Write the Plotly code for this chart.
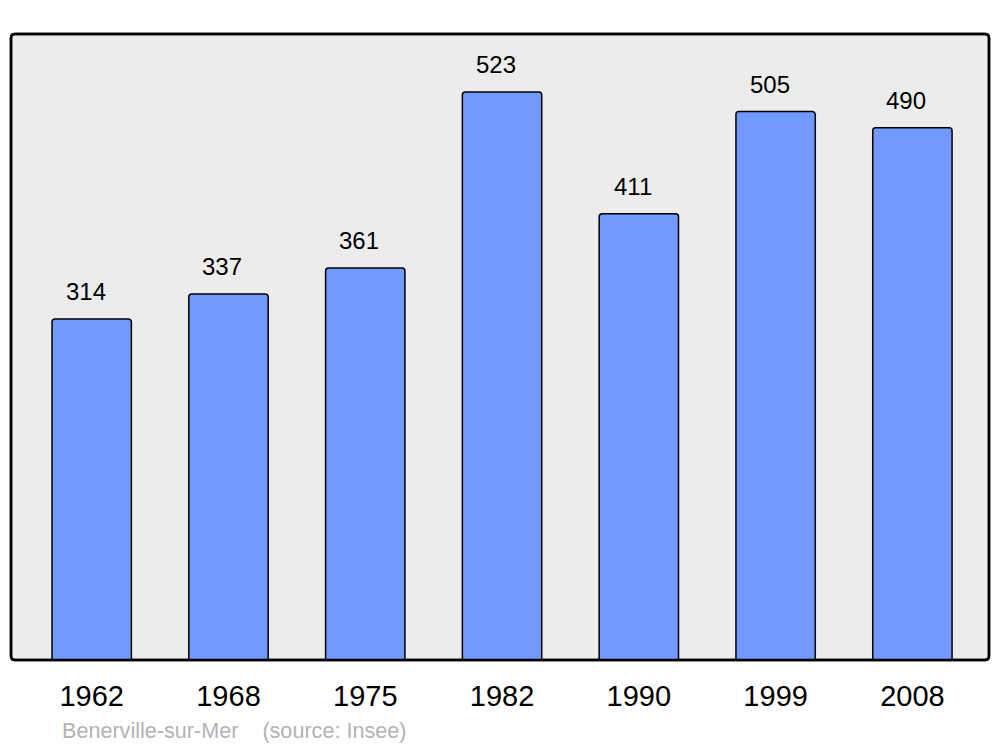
import plotly.graph_objects as go

years = ["1962", "1968", "1975", "1982", "1990", "1999", "2008"]
population = [314, 337, 361, 523, 411, 505, 490]
source_text = "Benerville-sur-Mer    (source: Insee)"

W, H = 1000, 747
L, T = 11, 34
R = W - 989
B = H - 660
pw, ph = W - L - R, H - T - B

FONT = "Liberation Sans, Arial, sans-serif"

fig = go.Figure()
fig.add_trace(go.Bar(
    x=years, y=population, width=0.58,
    marker=dict(color="#7299ff", line=dict(color="#000000", width=1.5)),
    hoverinfo="x+y",
))

annotations = []
for i, v in enumerate(population):
    annotations.append(dict(x=i, y=v, xref="x", yref="y", text=str(v), showarrow=False,
                            yanchor="bottom", yshift=12, xshift=-6,
                            font=dict(family=FONT, size=24, color="#000000")))
annotations.append(dict(x=(60 - L) / pw, y=-(730 - (T + ph)) / ph,
                        xref="paper", yref="paper", text=source_text, showarrow=False,
                        xanchor="left", yanchor="middle",
                        font=dict(family=FONT, size=21.6, color="#b3b3b3")))

# rounded frame
rx, ry = 4 / pw, 4 / ph
path = (f"M {rx},0 L {1-rx},0 Q 1,0 1,{ry} L 1,{1-ry} Q 1,1 {1-rx},1 "
        f"L {rx},1 Q 0,1 0,{1-ry} L 0,{ry} Q 0,0 {rx},0 Z")

fig.update_layout(
    width=W, height=H,
    margin=dict(l=L, r=R, t=T, b=B, pad=0),
    paper_bgcolor="#ffffff",
    plot_bgcolor="rgba(0,0,0,0)",
    showlegend=False,
    barcornerradius=3,
    xaxis=dict(type="category", range=[-0.59, 6.56], showgrid=False, zeroline=False, showline=False,
               ticks="outside", ticklen=0, tickcolor="rgba(0,0,0,0)",
               tickfont=dict(family=FONT, size=29, color="#000000"),
               ticklabelstandoff=10, fixedrange=True),
    yaxis=dict(range=[0, 576.4], showgrid=False, zeroline=False, showline=False,
               showticklabels=False, fixedrange=True),
    annotations=annotations,
    shapes=[
        dict(type="path", xref="paper", yref="paper", path=path,
             fillcolor="#ececec", line=dict(color="#000000", width=2.5), layer="below"),
        dict(type="path", xref="paper", yref="paper", path=path,
             fillcolor="rgba(0,0,0,0)", line=dict(color="#000000", width=2.5), layer="above"),
    ],
)

fig.write_html(
    "out.html",
    config={"displayModeBar": False},
    post_script="document.body.style.margin='0';document.body.style.overflow='hidden';",
)
